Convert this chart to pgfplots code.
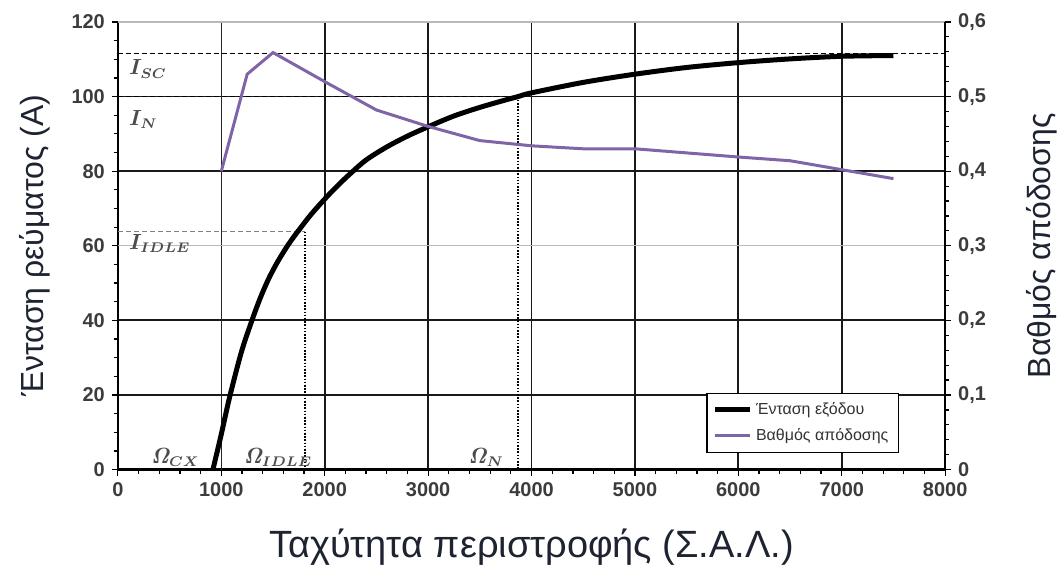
\documentclass[border=0pt]{standalone}
\usepackage[no-math]{fontspec}
\setmainfont{Liberation Sans}
\usepackage{pgfplots}
\pgfplotsset{compat=1.18}
\definecolor{effpurple}{RGB}{128,100,168}
\definecolor{labelcol}{RGB}{30,35,50}
\definecolor{tickcol}{RGB}{60,60,60}
\begin{document}
\begin{tikzpicture}
\pgfplotsset{
 base/.style={scale only axis, width=414pt, height=224pt, xmin=0, xmax=8000,
  tick align=outside, major tick length=3pt, minor tick length=2pt,
  every tick/.style={black, line width=0.6pt},
  ticklabel style={font=\fontsize{10}{12}\selectfont\bfseries, text=tickcol},
  /pgf/number format/assume math mode=true,
  /pgf/number format/1000 sep={},
  axis line style={black, line width=1.3pt},
 }
}
\begin{axis}[base, name=a1,
 ymin=0, ymax=120,
 axis x line*=bottom, axis y line*=left,
 xtick={0,2000,3000,4000,5000,6000,7000,8000},
 extra x ticks={1000},
 extra x tick style={grid=major, major grid style={black!85, line width=0.5pt}},
 minor xtick={200,400,600,800,1200,1400,1600,1800,2200,2400,2600,2800,3200,3400,3600,3800,4200,4400,4600,4800,5200,5400,5600,5800,6200,6400,6600,6800,7200,7400,7600,7800},
 ytick={0,20,40,80,100},
 extra y ticks={60,120},
 extra y tick style={grid=major, major grid style={gray!55, line width=0.6pt}},
 minor ytick={5,10,15,25,30,35,45,50,55,65,70,75,85,90,95,105,110,115},
 grid=major,
 major grid style={black!90, line width=0.9pt},
 xlabel={Ταχύτητα περιστροφής (Σ.Α.Λ.)},
 xlabel style={font=\fontsize{19}{22}\selectfont, text=labelcol, at={(axis description cs:0.5,-0.174)}, anchor=center},
 ylabel={Ένταση ρεύματος (A)},
 ylabel style={font=\fontsize{16}{19}\selectfont, text=labelcol, at={(axis description cs:-0.1,0.5)}, anchor=center},
]
% reference lines
\addplot[black, line width=0.7pt, dash pattern=on 2.5pt off 1.5pt] coordinates {(0,111.6) (8000,111.6)};
\addplot[black, line width=0.7pt, dash pattern=on 2.5pt off 1.5pt] coordinates {(0,100) (3870,100)};
\addplot[gray, line width=0.7pt, dash pattern=on 2.5pt off 1.5pt] coordinates {(0,63.8) (1812,63.8)};
\addplot[black, line width=1pt, dash pattern=on 0.8pt off 0.8pt] coordinates {(1812,63.8) (1812,0)};
\addplot[black, line width=1pt, dash pattern=on 0.8pt off 0.8pt] coordinates {(3870,100) (3870,0)};
% current curve
\addplot[black, line width=2.5pt, smooth, tension=0.5] coordinates {
(919,0) (1000,9.5) (1081,19.5) (1194,31.5) (1290,39.5) (1371,45.6) (1450,50.7)
(1530,55) (1610,58.7) (1680,61.6) (1750,64.2) (1850,67.8) (1950,71) (2050,74)
(2150,76.8) (2250,79.4) (2400,83) (2600,86.5) (2800,89.4) (3000,91.9) (3250,94.8)
(3500,97.1) (3750,99.1) (3870,100) (4000,101) (4500,103.8) (5000,106) (5500,107.8)
(6000,109.1) (6500,110.1) (7000,110.8) (7500,111)};
% annotations
\node[anchor=west, font=\fontsize{10.5}{12}\selectfont\boldmath, text=black!70] at (axis cs:40,107.4) {$I_{SC}$};
\node[anchor=west, font=\fontsize{10.5}{12}\selectfont\boldmath, text=black!70] at (axis cs:40,93.8) {$I_{N}$};
\node[anchor=west, font=\fontsize{10.5}{12}\selectfont\boldmath, text=black!70] at (axis cs:40,60.6) {$I_{IDLE}$};
\node[anchor=east, font=\fontsize{10.5}{12}\selectfont\boldmath, text=black!70] at (axis cs:860,3.2) {$\mathit{\Omega}_{CX}$};
\node[anchor=west, font=\fontsize{10.5}{12}\selectfont\boldmath, text=black!70] at (axis cs:1150,3.2) {$\mathit{\Omega}_{IDLE}$};
\node[anchor=east, font=\fontsize{10.5}{12}\selectfont\boldmath, text=black!70] at (axis cs:3800,3.2) {$\mathit{\Omega}_{N}$};
\end{axis}
\begin{axis}[base,
 ymin=0, ymax=0.6,
 axis x line=none, axis y line*=right,
 ytick={0,0.1,0.2,0.3,0.4,0.5,0.6},
 minor y tick num=4,
 yticklabel style={/pgf/number format/.cd, use comma, fixed, precision=1},
 ylabel={Βαθμός απόδοσης},
 ylabel style={font=\fontsize{16}{19}\selectfont, text=labelcol, at={(axis description cs:1.117,0.5)}, anchor=center, rotate=0},
 legend style={at={(axis description cs:0.711,0.172)}, anchor=north west,
   font=\fontsize{8}{10}\selectfont, text=black!80, draw=black, line width=0.8pt,
   fill=white, row sep=1.5pt, inner xsep=3pt, inner ysep=2.5pt},
 legend cell align=left,
]
\addlegendimage{black, line width=2.5pt}
\addlegendentry{Ένταση εξόδου}
\addplot[effpurple, line width=1.5pt] coordinates {
(1000,0.40) (1250,0.53) (1500,0.559) (2000,0.52) (2500,0.482) (3000,0.46)
(3500,0.441) (4000,0.434) (4500,0.43) (5000,0.43) (6000,0.419) (6500,0.414)
(7000,0.402) (7500,0.39)};
\addlegendentry{Βαθμός απόδοσης}
\end{axis}
\path ([shift={(-59pt,-48pt)}]a1.south west) rectangle ([shift={(59pt,11pt)}]a1.north east);
\end{tikzpicture}
\end{document}
